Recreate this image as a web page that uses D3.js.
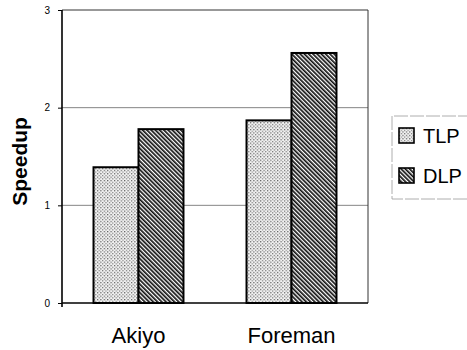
<!DOCTYPE html>
<html>
<head>
<meta charset="utf-8">
<script src="https://cdn.jsdelivr.net/npm/d3@7"></script>
<style>
  html, body { margin: 0; padding: 0; background: #fff; }
  svg { display: block; font-family: Arial, 'Liberation Sans', sans-serif; }
</style>
</head>
<body>
<svg id="chart" width="467" height="350"></svg>
<script>
const categories = ['Akiyo', 'Foreman']
const seriesNames = ['TLP', 'DLP']
const tlpValues = [1.39, 1.87]
const dlpValues = [1.78, 2.56]
const yTicks = [0, 1, 2, 3]

const svg = d3.select('#chart')
const width = 467
const height = 350
const margin = { top: 10, right: 99, bottom: 47, left: 62 }
const innerW = width - margin.left - margin.right
const innerH = height - margin.top - margin.bottom

// fill patterns
const defs = svg.append('defs')
const dots = defs.append('pattern')
  .attr('id', 'pat-TLP')
  .attr('patternUnits', 'userSpaceOnUse')
  .attr('width', 3.4).attr('height', 3.4)
dots.append('rect').attr('width', 3.4).attr('height', 3.4).attr('fill', '#f3f3f3')
dots.append('rect').attr('x', 0).attr('y', 0).attr('width', 1.2).attr('height', 1.2).attr('fill', '#555')
dots.append('rect').attr('x', 1.7).attr('y', 1.7).attr('width', 1.2).attr('height', 1.2).attr('fill', '#777')

const hatch = defs.append('pattern')
  .attr('id', 'pat-DLP')
  .attr('patternUnits', 'userSpaceOnUse')
  .attr('width', 3).attr('height', 3)
  .attr('patternTransform', 'rotate(-45)')
hatch.append('rect').attr('width', 3).attr('height', 3).attr('fill', '#fff')
hatch.append('rect').attr('width', 1.7).attr('height', 3).attr('fill', '#111')

const g = svg.append('g').attr('transform', `translate(${margin.left},${margin.top})`)

const x0 = d3.scaleBand().domain(categories).range([0, innerW]).paddingInner(0.412).paddingOuter(0.206)
const x1 = d3.scaleBand().domain(seriesNames).range([0, x0.bandwidth()])
const y = d3.scaleLinear().domain([0, 3]).range([innerH, 0])

// gridlines
g.append('g')
  .selectAll('line')
  .data(yTicks.filter(t => t > 0 && t < 3))
  .join('line')
  .attr('x1', 0).attr('x2', innerW)
  .attr('y1', d => y(d)).attr('y2', d => y(d))
  .attr('stroke', '#666')
  .attr('stroke-width', 0.8)

// plot frame top/right
g.append('path')
  .attr('d', `M0,${y(3)}H${innerW}V${innerH}`)
  .attr('fill', 'none')
  .attr('stroke', '#333')
  .attr('stroke-width', 1)

const rows = categories.map((c, i) => ({ cat: c, values: [
  { key: 'TLP', value: tlpValues[i] },
  { key: 'DLP', value: dlpValues[i] }
] }))

const groups = g.selectAll('g.grp')
  .data(rows)
  .join('g')
  .attr('class', 'grp')
  .attr('transform', d => `translate(${x0(d.cat)},0)`)

groups.selectAll('rect')
  .data(d => d.values)
  .join('rect')
  .attr('x', d => x1(d.key))
  .attr('y', d => y(d.value))
  .attr('width', x1.bandwidth())
  .attr('height', d => innerH - y(d.value))
  .attr('fill', d => `url(#pat-${d.key})`)
  .attr('stroke', '#000')
  .attr('stroke-width', 2)

// y axis
const yAxis = g.append('g')
  .call(d3.axisLeft(y).tickValues(yTicks).tickSize(4).tickPadding(8).tickFormat(d3.format('d')))
yAxis.select('.domain').attr('stroke', '#000').attr('stroke-width', 1.6)
  .attr('d', `M0,0V${innerH + 4}`)
yAxis.selectAll('text').attr('font-size', 10).attr('font-family', 'Arial, sans-serif').attr('fill', '#000')

// x baseline
g.append('line')
  .attr('x1', 0).attr('x2', innerW)
  .attr('y1', innerH).attr('y2', innerH)
  .attr('stroke', '#000').attr('stroke-width', 1.6)

// category labels
g.selectAll('text.cat')
  .data(categories)
  .join('text')
  .attr('class', 'cat')
  .attr('x', d => x0(d) + x0.bandwidth() / 2)
  .attr('y', innerH + 40)
  .attr('text-anchor', 'middle')
  .attr('font-size', 22)
  .attr('fill', '#000')
  .text(d => d)

// y label
svg.append('text')
  .attr('transform', `translate(27,${margin.top + y(1.45)}) rotate(-90)`)
  .attr('text-anchor', 'middle')
  .attr('font-size', 21)
  .attr('font-weight', 'bold')
  .text('Speedup')

// legend (box runs off the right edge)
const legend = svg.append('g').attr('transform', 'translate(392,116)')
legend.append('path')
  .attr('d', 'M80,0H0V83H80')
  .attr('fill', 'none')
  .attr('stroke', '#999')
  .attr('stroke-width', 0.8)
  .attr('stroke-dasharray', '14,2')

const item = legend.selectAll('g.item')
  .data(seriesNames)
  .join('g')
  .attr('class', 'item')
  .attr('transform', (d, i) => `translate(7,${12 + i * 40})`)

item.append('rect')
  .attr('width', 15).attr('height', 15)
  .attr('fill', d => `url(#pat-${d})`)
  .attr('stroke', '#000')
  .attr('stroke-width', 1.6)

item.append('text')
  .attr('x', 24)
  .attr('y', 15)
  .attr('font-size', 20)
  .attr('fill', '#000')
  .text(d => d)
</script>
</body>
</html>
